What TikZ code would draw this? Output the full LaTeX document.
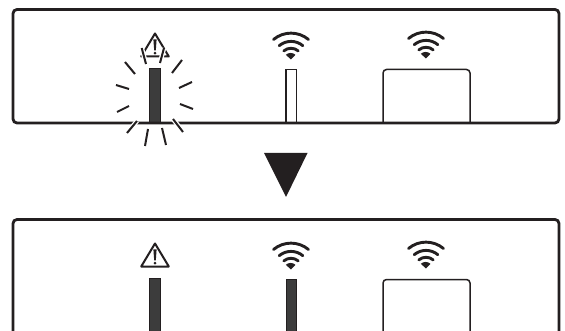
\documentclass[tikz,border=0pt]{standalone}
\definecolor{ink}{HTML}{231F20}
\definecolor{barfill}{HTML}{3C3C3C}
\tikzset{
  panel/.style={draw=ink,line width=2.8pt,rounded corners=4pt},
  thin box/.style={draw=ink,line width=1.5pt},
  ray/.style={draw=ink,line width=2pt},
  rayhalo/.style={draw=white,line width=4.6pt},
  warnline/.style={draw=ink,line width=2pt,line join=round},
  wifiarc/.style={draw=ink,line width=2.9pt,line cap=round},
  darkbar/.style={fill=barfill,draw=ink,line width=.6pt}
}
\newcommand{\wifiicon}[2]{%
  \begin{scope}[shift={(#1,#2)}]
    \draw[wifiarc] (-17.5,-20) arc[start angle=-130,end angle=-50,radius=27.2];
    \draw[wifiarc] (-11.8,-13.8) arc[start angle=-130,end angle=-50,radius=18.4];
    \draw[wifiarc] (-7.2,-8.6) arc[start angle=-130,end angle=-50,radius=11.2];
    \fill[ink] (0,0) -- (-5.2,-4.7) arc[start angle=-132,end angle=-48,radius=7.2] -- cycle;
  \end{scope}}
\newcommand{\warnicon}[2]{%
  \begin{scope}[shift={(#1,#2)}]
    \draw[warnline] (0,0) -- (13.8,23) -- (-13.8,23) -- cycle;
    \fill[ink] (-1.6,6) -- (1.6,6) -- (.8,17) -- (-.8,17) -- cycle;
    \fill[ink] (0,19.6) circle[radius=1.5];
  \end{scope}}
\begin{document}
\begin{tikzpicture}[x=1pt,y=-1pt]
\useasboundingbox (0,0) rectangle (565,331);
% upper panel
\fill[darkbar] (149.5,68.5) rectangle (160.5,123);
\draw[thin box] (285.8,123) -- (285.8,69.5) -- (296.5,69.5) -- (296.5,123);
\draw[thin box,rounded corners=3.5pt] (383,123) -- (383,69.5) -- (470,69.5) -- (470,123);
\draw[panel] (13,9.5) rectangle (559,123);
\warnicon{155}{33.5}
\wifiicon{291}{59.5}
\wifiicon{426}{58.5}
% flash rays
\foreach \ax/\ay/\bx/\by in {141.7/48/146/64, 164/48/160/63, 125/62/135/74, 182/60/172/73,
    116/85/129/89, 192/82/179/88, 117/112/129/106, 193/109/180/104,
    127/133/137/121, 183/132/173/119, 145/146/148/129, 166/145/162/128}{
  \draw[rayhalo] (\ax,\ay) -- (\bx,\by);
}
\foreach \ax/\ay/\bx/\by in {141.7/48/146/64, 164/48/160/63, 125/62/135/74, 182/60/172/73,
    116/85/129/89, 192/82/179/88, 117/112/129/106, 193/109/180/104,
    127/133/137/121, 183/132/173/119, 145/146/148/129, 166/145/162/128}{
  \draw[ray] (\ax,\ay) -- (\bx,\by);
}
% arrow
\fill[ink] (264,153) -- (307.5,153) -- (286,197) -- cycle;
% lower panel
\draw[panel] (13,335) -- (13,219.5) -- (559,219.5) -- (559,335);
\fill[darkbar] (149.5,278.5) rectangle (160.5,333);
\fill[darkbar] (285.8,279) rectangle (296.5,333);
\draw[thin box,rounded corners=3.5pt] (383,335) -- (383,279.5) -- (470,279.5) -- (470,335);
\warnicon{155}{243.5}
\wifiicon{291}{269.5}
\wifiicon{426}{268.5}
\end{tikzpicture}
\end{document}
